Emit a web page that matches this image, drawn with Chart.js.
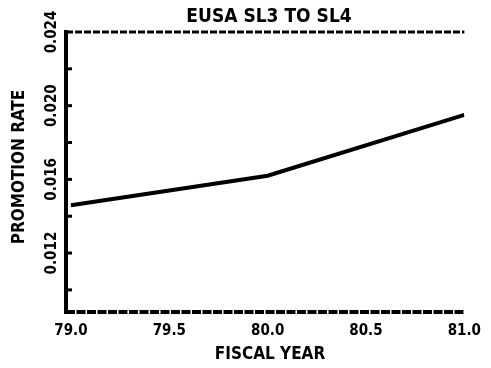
<!DOCTYPE html>
<html>
<head>
<meta charset="utf-8">
<style>
  html, body { margin: 0; padding: 0; background: #fff; }
  #wrap { width: 491px; height: 368px; position: relative; }
</style>
<script src="https://cdn.jsdelivr.net/npm/chart.js@4.4.0/dist/chart.umd.min.js"></script>
</head>
<body>
<div id="wrap"><canvas id="c" width="491" height="368"></canvas></div>
<script>
const years = [79.0, 80.0, 81.0];
const rates = [0.0146, 0.0162, 0.0195];
const xTickValues = [79.0, 79.5, 80.0, 80.5, 81.0];
const yMinorTicks = [0.010, 0.012, 0.014, 0.016, 0.018, 0.020, 0.022];
const yTickLabels = ['0.012', '0.016', '0.020', '0.024'];
const titleText = 'EUSA SL3 TO SL4';
const xTitle = 'FISCAL YEAR';
const yTitle = 'PROMOTION RATE';

const FONT = '"DejaVu Sans Condensed", "DejaVu Sans", sans-serif';

const framePlugin = {
  id: 'framePlugin',
  afterDatasetsDraw(chart) {
    const ctx = chart.ctx;
    const area = chart.chartArea;
    ctx.save();
    ctx.strokeStyle = '#000';
    ctx.lineCap = 'butt';
    ctx.setLineDash([7, 2]);
    ctx.lineWidth = 3;
    ctx.beginPath();
    ctx.moveTo(area.left, area.top);
    ctx.lineTo(area.right, area.top);
    ctx.stroke();
    ctx.setLineDash([9, 1.5]);
    ctx.lineWidth = 4;
    ctx.beginPath();
    ctx.moveTo(area.left, area.bottom);
    ctx.lineTo(area.right, area.bottom);
    ctx.stroke();
    ctx.setLineDash([]);
    ctx.lineWidth = 4;
    ctx.beginPath();
    ctx.moveTo(area.left, area.top - 2);
    ctx.lineTo(area.left, area.bottom + 2);
    ctx.stroke();
    ctx.restore();
  }
};

const textPlugin = {
  id: 'textPlugin',
  afterDraw(chart) {
    const ctx = chart.ctx;
    const y = chart.scales.y;
    const area = chart.chartArea;
    ctx.save();
    ctx.fillStyle = '#000';
    ctx.strokeStyle = '#000';
    ctx.lineWidth = 3;
    yMinorTicks.forEach(v => {
      const py = y.getPixelForValue(v);
      ctx.beginPath();
      ctx.moveTo(area.left, py);
      ctx.lineTo(area.left + 6, py);
      ctx.stroke();
    });
    ctx.font = 'bold 15px ' + FONT;
    ctx.textAlign = 'center';
    ctx.textBaseline = 'middle';
    yTickLabels.forEach(s => {
      const py = y.getPixelForValue(parseFloat(s));
      ctx.save();
      ctx.translate(52, py);
      ctx.rotate(-Math.PI / 2);
      ctx.fillText(s, 0, 0);
      ctx.restore();
    });
    ctx.font = 'bold 17px ' + FONT;
    ctx.save();
    ctx.translate(20, 167);
    ctx.rotate(-Math.PI / 2);
    ctx.fillText(yTitle, 0, 0);
    ctx.restore();
    ctx.font = 'bold 19px ' + FONT;
    ctx.fillText(titleText, 269, 17);
    ctx.font = 'bold 17px ' + FONT;
    ctx.fillText(xTitle, 270, 355);
    ctx.restore();
  }
};

new Chart(document.getElementById('c'), {
  type: 'line',
  data: {
    datasets: [{
      data: years.map((x, i) => ({ x: x, y: rates[i] })),
      borderColor: '#000',
      borderWidth: 4,
      pointRadius: 0,
      tension: 0,
      fill: false
    }]
  },
  options: {
    responsive: false,
    animation: false,
    devicePixelRatio: 1,
    layout: { padding: { left: 0, right: 24, top: 32, bottom: 0 } },
    plugins: { legend: { display: false }, title: { display: false }, tooltip: { enabled: false } },
    scales: {
      x: {
        type: 'linear',
        position: 'bottom',
        min: 78.975,
        max: 81.0,
        afterBuildTicks(scale) { scale.ticks = xTickValues.map(v => ({ value: v })); },
        afterFit(scale) { scale.height = 56; },
        grid: { display: false, drawTicks: false },
        border: { display: false },
        ticks: {
          color: '#000',
          padding: 10,
          maxRotation: 0,
          font: { family: FONT, weight: 'bold', size: 15 },
          callback: v => Number(v).toFixed(1)
        }
      },
      y: {
        type: 'linear',
        min: 0.0088,
        max: 0.024,
        afterFit(scale) { scale.width = 66; },
        grid: { display: false, drawTicks: false },
        border: { display: false },
        ticks: { display: false }
      }
    }
  },
  plugins: [framePlugin, textPlugin]
});
</script>
</body>
</html>
